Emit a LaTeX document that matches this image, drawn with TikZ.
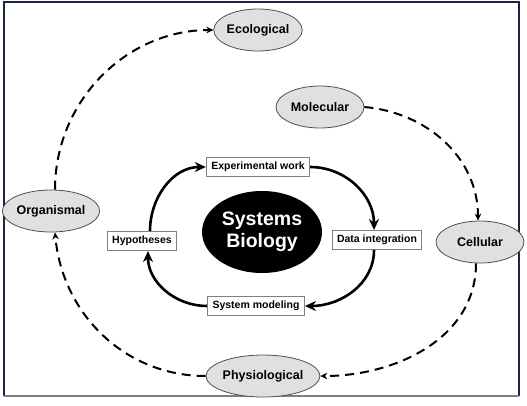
\documentclass[tikz,border=0pt]{standalone}
\usepackage{fontspec}
\setmainfont{Liberation Sans}
\usetikzlibrary{shapes.geometric,arrows.meta,calc}
\definecolor{framec}{HTML}{1C2444}
\definecolor{ellfill}{HTML}{E0E0E0}
\definecolor{ellline}{HTML}{505050}
\definecolor{boxline}{HTML}{808080}
\begin{document}
\begin{tikzpicture}[x=1pt,y=-1pt,
  level/.style={ellipse,draw=ellline,line width=0.8pt,fill=ellfill,minimum width=88pt,minimum height=42pt,inner sep=0pt,font=\fontsize{12.5}{14}\selectfont\bfseries},
  stepbox/.style={rectangle,draw=boxline,line width=1pt,fill=white,minimum height=19pt,inner xsep=5pt,inner ysep=2pt,font=\fontsize{10.5}{12}\selectfont\bfseries},
  core/.style={ellipse,fill=black,text=white,minimum width=120pt,minimum height=82pt,inner sep=0pt,align=center,font=\fontsize{19.5}{22}\selectfont\bfseries},
  cyc/.style={line width=2.6pt,-{Stealth[length=11pt,width=10pt]}},
  dsh/.style={line width=2pt,dash pattern=on 9pt off 6pt,-{Stealth[length=7pt,width=6.5pt]}}]
\useasboundingbox (0,0) rectangle (527,405);
\fill[white] (0,0) rectangle (527,405);
\draw[framec,line width=1.5pt] (4,396) -- (4,2) -- (519,2) -- (519,396);
\draw[gray,line width=2pt] (4,396) -- (519,396);

\node[level] (eco) at (258,30) {Ecological};
\node[level] (mol) at (320,107) {Molecular};
\node[level,minimum width=90pt] (org) at (51,211) {Organismal};
\node[level] (cel) at (480,242) {Cellular};
\node[level,minimum width=92pt] (phy) at (263,376) {Physiological};

\node[core] (sb) at (262,232) {Systems\\Biology};
\node[stepbox] (exp) at (258,167) {Experimental work};
\node[stepbox] (hyp) at (142,241) {Hypotheses};
\node[stepbox] (dat) at (377,240) {Data integration};
\node[stepbox] (mod) at (256,306) {System modeling};

\draw[cyc] ($(hyp.north)+(8,0)$) to[out=90,in=180] (exp.west);
\draw[cyc] (exp.east) to[out=0,in=90] ($(dat.north)+(-3,0)$);
\draw[cyc] ($(dat.south)+(-3,0)$) to[out=270,in=0] (mod.east);
\draw[cyc] (mod.west) to[out=180,in=270] ($(hyp.south)+(6,0)$);

\draw[dsh] (mol.east) to[out=-5,in=90] ($(cel.north)+(-2,0)$);
\draw[dsh] ($(cel.south)+(-4,0)$) to[out=270,in=0] (phy.east);
\draw[dsh] (phy.west) to[out=180,in=275] ($(org.south)+(4,0)$);
\draw[dsh] ($(org.north)+(4,0)$) to[out=90,in=180] (eco.west);
\end{tikzpicture}
\end{document}
